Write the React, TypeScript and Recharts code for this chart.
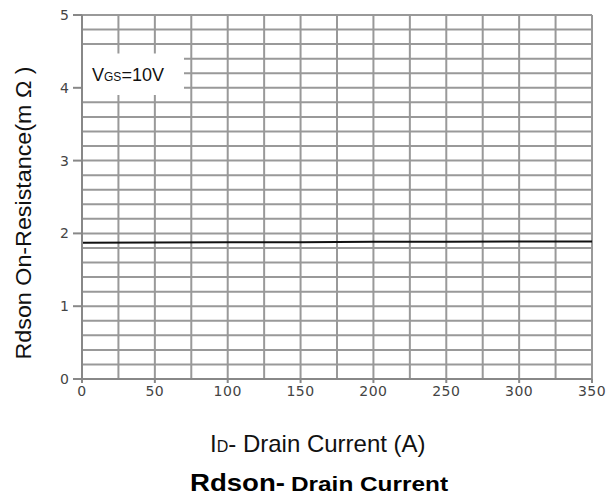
import React from 'react';
import { LineChart, Line, XAxis, YAxis, CartesianGrid, ReferenceArea } from 'recharts';

const currents = [0, 50, 100, 150, 200, 250, 300, 350];
const rdson = [1.87, 1.875, 1.88, 1.88, 1.885, 1.885, 1.89, 1.89];
const xTicks = [0, 50, 100, 150, 200, 250, 300, 350];
const yTicks = [0, 1, 2, 3, 4, 5];
const xGrid = [0, 25, 50, 75, 100, 125, 150, 175, 200, 225, 250, 275, 300, 325, 350];
const yGrid = [0, 0.2, 0.4, 0.6, 0.8, 1, 1.2, 1.4, 1.6, 1.8, 2, 2.2, 2.4, 2.6, 2.8, 3, 3.2, 3.4, 3.6, 3.8, 4, 4.2, 4.4, 4.6, 4.8, 5];

const data = currents.map((c, i) => ({ current: c, rdson: rdson[i] }));

const XTick = (props: any) => {
  const { x, y, payload } = props;
  return (
    <text
      x={x}
      y={y + 13}
      textAnchor="middle"
      style={{ fontFamily: 'DejaVu Sans', fontSize: 14, fill: '#444', letterSpacing: 0.5 }}
    >
      {payload.value}
    </text>
  );
};

const YTick = (props: any) => {
  const { x, y, payload } = props;
  return (
    <text
      x={x}
      y={y + 5}
      textAnchor="end"
      style={{ fontFamily: 'DejaVu Sans', fontSize: 14, fill: '#444' }}
    >
      {payload.value}
    </text>
  );
};

const VgsLabel = (props: any) => {
  const vb = props.viewBox || {};
  const x = vb.x + 9;
  const y = vb.y + vb.height * 0.5 + 7;
  return (
    <text x={x} y={y} style={{ fontFamily: 'Liberation Sans', fontSize: 18, fill: '#111' }}>
      <tspan>V</tspan>
      <tspan style={{ fontSize: 12 }}>GS</tspan>
      <tspan>=10V</tspan>
    </text>
  );
};

export default function App() {
  return (
    <div style={{ position: 'absolute', left: 0, top: 0, width: 607, height: 495, background: '#fff' }}>
      <LineChart
        width={607}
        height={495}
        data={data}
        margin={{ top: 15, right: 15, bottom: 86, left: 0 }}
      >
        <CartesianGrid
          stroke="#999"
          strokeWidth={2}
          horizontalValues={yGrid}
          verticalValues={xGrid}
        />
        <XAxis
          dataKey="current"
          type="number"
          domain={[0, 350]}
          ticks={xTicks}
          height={30}
          stroke="#888"
          strokeWidth={2}
          tickSize={4}
          tickMargin={0}
          tick={<XTick />}
          interval={0}
        />
        <YAxis
          type="number"
          domain={[0, 5]}
          ticks={yTicks}
          width={82}
          stroke="#888"
          strokeWidth={2}
          tickSize={9}
          tickMargin={4}
          tick={<YTick />}
          interval={0}
        />
        <ReferenceArea
          x1={0.7}
          x2={70}
          y1={3.9}
          y2={4.47}
          fill="#fff"
          fillOpacity={1}
          stroke="none"
          ifOverflow="visible"
          label={<VgsLabel />}
        />
        <Line
          type="linear"
          dataKey="rdson"
          stroke="#111"
          strokeWidth={2}
          dot={false}
          isAnimationActive={false}
        />
      </LineChart>
      <svg
        width={607}
        height={495}
        style={{ position: 'absolute', left: 0, top: 0, pointerEvents: 'none' }}
      >
        <text
          x={31}
          y={213}
          transform="rotate(-90 31 213)"
          textAnchor="middle"
          textLength={293}
          lengthAdjust="spacingAndGlyphs"
          style={{ fontFamily: 'Liberation Sans', fontSize: 22, fill: '#111' }}
        >
          Rdson On-Resistance(m Ω )
        </text>
        <text x={210} y={452} style={{ fontFamily: 'Liberation Sans', fontSize: 24, fill: '#111' }}>
          <tspan>I</tspan>
          <tspan style={{ fontSize: 16 }}>D</tspan>
          <tspan>- Drain Current (A)</tspan>
        </text>
        <text
          x={190}
          y={491}
          textLength={95}
          lengthAdjust="spacingAndGlyphs"
          style={{ fontFamily: 'Liberation Sans', fontWeight: 'bold', fontSize: 24, fill: '#000' }}
        >
          Rdson-
        </text>
        <text
          x={291}
          y={491}
          textLength={157}
          lengthAdjust="spacingAndGlyphs"
          style={{ fontFamily: 'Liberation Sans', fontWeight: 'bold', fontSize: 20, fill: '#000' }}
        >
          Drain Current
        </text>
      </svg>
    </div>
  );
}
